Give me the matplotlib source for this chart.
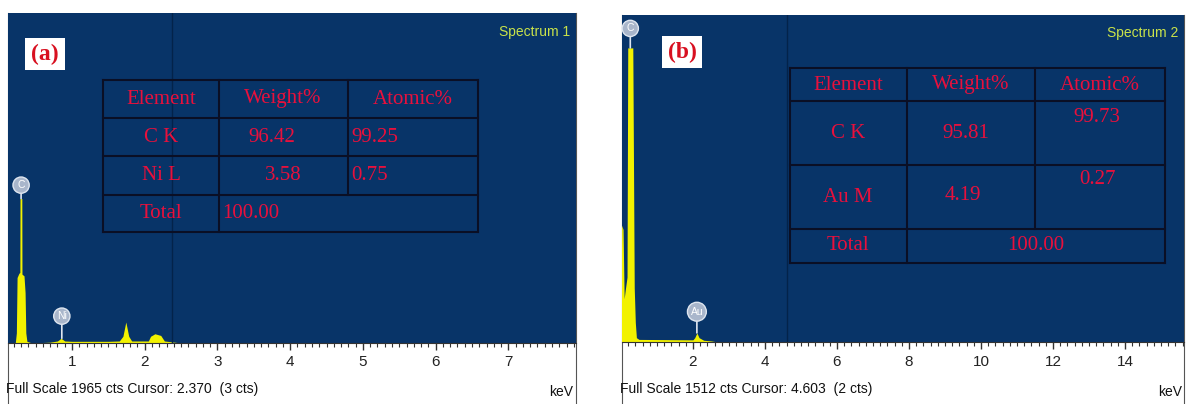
import matplotlib
matplotlib.use("Agg")
import matplotlib.pyplot as plt
from matplotlib.ticker import MultipleLocator

# spectrum (a): energy (keV) and counts
energy_a = [0.12, 0.22, 0.235, 0.245, 0.27, 0.283, 0.285, 0.31, 0.312, 0.34, 0.355, 0.365,
            0.38, 0.45, 0.7, 0.8, 0.85, 0.9, 1.0, 1.5, 1.65, 1.70, 1.74, 1.78, 1.82,
            2.05, 2.08, 2.14, 2.22, 2.27, 2.35, 2.5, 7.93]
counts_a = [0, 0, 60, 390, 415, 420, 860, 860, 410, 400, 300, 60,
            10, 0, 5, 12, 28, 12, 10, 10, 12, 40, 125, 40, 12,
            12, 40, 55, 45, 12, 8, 0, 0]

# spectrum (b)
energy_b = [0.0, 0.02, 0.06, 0.09, 0.12, 0.17, 0.19, 0.33, 0.37, 0.40, 0.43, 0.5,
            2.0, 2.05, 2.11, 2.17, 2.3, 2.5, 2.7, 15.64]
counts_b = [0, 540, 520, 200, 240, 300, 1360, 1360, 250, 90, 20, 12,
            10, 20, 42, 20, 8, 5, 0, 0]

full_scale = [1965, 1512]
cursor_kev = [2.370, 4.603]
cursor_cts = [3, 2]
spectrum_names = ["Spectrum 1", "Spectrum 2"]
panel_labels = ["(a)", "(b)"]

# element markers: (symbol, energy, peak counts, marker height)
markers_a = [("C", 0.30, 860, 940), ("Ni", 0.86, 28, 160)]
markers_b = [("C", 0.26, 1360, 1450), ("Au", 2.11, 42, 140)]

table_a = [["Element", "Weight%", "Atomic%"],
           ["C K", "96.42", "99.25"],
           ["Ni L", "3.58", "0.75"],
           ["Total", "100.00", ""]]
table_b = [["Element", "Weight%", "Atomic%"],
           ["C K", "95.81", "99.73"],
           ["Au M", "4.19", "0.27"],
           ["Total", "100.00", ""]]

W, H = 1186, 404
BLUE = "#083468"
YELLOW = "#f2f200"
RED = "#e8103c"
SANS = ["Liberation Sans", "DejaVu Sans"]
SERIF = ["Liberation Serif", "DejaVu Serif"]

fig = plt.figure(figsize=(W / 100, H / 100), dpi=100)


def px_rect(x0, y0, x1, y1):
    return [x0 / W, 1 - y1 / H, (x1 - x0) / W, (y1 - y0) / H]


def draw_panel(box, xlim, ymax, energy, counts, markers, major, minor, cursor, name):
    # white frame under the plot with side lines
    frame = fig.add_axes(px_rect(box[0], box[1], box[2], H))
    frame.set_xticks([])
    frame.set_yticks([])
    for s in ["top", "bottom"]:
        frame.spines[s].set_visible(False)
    for s in ["left", "right"]:
        frame.spines[s].set_color("#555555")

    ax = fig.add_axes(px_rect(*box))
    ax.set_facecolor(BLUE)
    ax.set_xlim(*xlim)
    ax.set_ylim(0, ymax)
    ax.fill_between(energy, counts, 0, color=YELLOW, lw=0)
    ax.axvline(cursor, color="#03234a", lw=1)
    for sym, e, peak, top in markers:
        ax.annotate(sym, xy=(e, peak), xytext=(e, top), textcoords="data",
                    ha="center", va="center", fontsize=7.5, color="white",
                    family=SANS,
                    bbox=dict(boxstyle="circle,pad=0.3", fc="#a9b6cb", ec="#dfe6f0", lw=1),
                    arrowprops=dict(arrowstyle="-", color="#dfe6f0", lw=1.2, shrinkA=0, shrinkB=0))
    ax.set_yticks([])
    ax.xaxis.set_major_locator(MultipleLocator(major))
    ax.xaxis.set_minor_locator(MultipleLocator(minor))
    ax.tick_params(axis="x", which="major", length=5, width=1, color="#333333",
                   pad=4, labelsize=11, labelcolor="#222222")
    ax.tick_params(axis="x", which="minor", length=3, width=0.8, color="#333333")
    for lab in ax.get_xticklabels():
        lab.set_family(SANS)
    for s in ["top", "left", "right"]:
        ax.spines[s].set_visible(False)
    ax.spines["bottom"].set_color("#333333")
    ax.text(0.99, 0.965, name, transform=ax.transAxes, ha="right", va="top",
            fontsize=10, color="#c9e24a", family=SANS)
    return ax


draw_panel((8, 13, 576, 343), (0.12, 7.93), full_scale[0], energy_a, counts_a,
           markers_a, 1, 0.1, cursor_kev[0], spectrum_names[0])
draw_panel((622, 15, 1184, 342), (0.03, 15.64), full_scale[1], energy_b, counts_b,
           markers_b, 2, 0.2, cursor_kev[1], spectrum_names[1])

# overlay in pixel coordinates for tables and captions
ov = fig.add_axes([0, 0, 1, 1])
ov.set_xlim(0, W)
ov.set_ylim(H, 0)
ov.axis("off")
ov.patch.set_alpha(0)


def draw_table(cols, rowy, cells, text_pos):
    lc = "#0a0f25"
    for y in rowy:
        ov.plot([cols[0], cols[-1]], [y, y], color=lc, lw=1.5)
    ov.plot([cols[0], cols[0]], [rowy[0], rowy[-1]], color=lc, lw=1.5)
    ov.plot([cols[-1], cols[-1]], [rowy[0], rowy[-1]], color=lc, lw=1.5)
    ov.plot([cols[1], cols[1]], [rowy[0], rowy[-1]], color=lc, lw=1.5)
    ov.plot([cols[2], cols[2]], [rowy[0], rowy[-2]], color=lc, lw=1.5)
    for r, row in enumerate(cells):
        for c, txt in enumerate(row):
            if not txt:
                continue
            x, y, ha = text_pos[r][c]
            ov.text(x, y, txt, ha=ha, va="center", fontsize=15, color=RED, family=SERIF)


draw_table([103, 219, 348, 478], [80, 118, 156, 195, 232], table_a,
           [[(161, 99, "center"), (283, 99, "center"), (413, 99, "center")],
            [(161, 137, "center"), (272, 137, "center"), (351, 137, "left")],
            [(161, 175, "center"), (283, 175, "center"), (351, 175, "left")],
            [(161, 213, "center"), (222, 213, "left"), None]])
draw_table([790, 907, 1035, 1165], [68, 101, 165, 229, 263], table_b,
           [[(848, 85, "center"), (971, 85, "center"), (1100, 85, "center")],
            [(848, 133, "center"), (966, 133, "center"), (1097, 117, "center")],
            [(848, 197, "center"), (963, 195, "center"), (1098, 180, "center")],
            [(848, 246, "center"), (1036, 245, "center"), None]])

for lab, (x, y) in zip(panel_labels, [(45, 54), (682, 52)]):
    ov.text(x, y, lab, ha="center", va="center", fontsize=17, fontweight="bold",
            color="#d81020", family=SERIF,
            bbox=dict(boxstyle="square,pad=0.25", fc="white", ec="none"))

for i, x0 in enumerate([8, 622]):
    ov.text(x0 - 2, 389, "Full Scale %d cts Cursor: %.3f  (%d cts)" % (full_scale[i], cursor_kev[i], cursor_cts[i]),
            ha="left", va="center", fontsize=10, color="#111111", family=SANS)
ov.text(573, 392, "keV", ha="right", va="center", fontsize=10, color="#111111", family=SANS)
ov.text(1182, 392, "keV", ha="right", va="center", fontsize=10, color="#111111", family=SANS)

fig.savefig("out.png", dpi=100)
